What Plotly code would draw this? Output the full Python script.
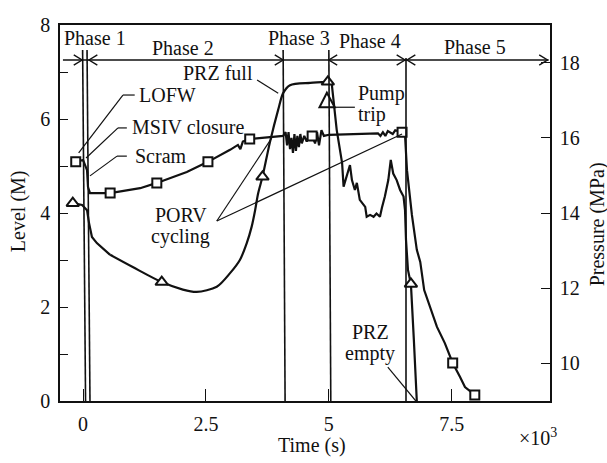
import plotly.graph_objects as go

# ---------------- data (time in 10^3 s) ----------------
t_level = [-0.21, -0.02, 0.08, 0.12, 0.18, 0.28, 0.55, 1.01, 1.60, 2.03, 2.31, 2.72, 2.99, 3.19, 3.33,
           3.43, 3.50, 3.56, 3.65, 3.80, 3.97, 4.07, 4.21, 4.62, 4.98, 5.06, 5.16, 5.27, 5.30, 5.36,
           5.43, 5.47, 5.53, 5.57, 5.63, 5.74, 5.77, 5.84, 5.91, 5.97, 6.04, 6.08, 6.14, 6.21, 6.26,
           6.31, 6.38, 6.45, 6.52, 6.55, 6.57, 6.61, 6.67, 6.73, 6.79]
level = [4.21, 4.17, 4.06, 3.79, 3.49, 3.36, 3.11, 2.85, 2.53, 2.37, 2.32, 2.43, 2.72, 3.00, 3.36,
         3.71, 4.06, 4.41, 4.77, 5.50, 6.20, 6.55, 6.72, 6.77, 6.79, 6.74, 5.77, 5.06, 4.56, 4.77,
         5.02, 4.70, 4.49, 4.64, 4.28, 4.13, 3.92, 3.96, 3.92, 3.99, 3.92, 4.11, 4.35, 4.70, 5.13,
         4.84, 4.70, 4.49, 4.35, 4.06, 3.43, 2.79, 2.49, 1.30, 0.00]

t_press = [-0.15, 0.00, 0.08, 0.10, 0.14, 0.55, 1.16, 1.50, 2.11, 2.54, 2.99, 3.15, 3.20, 3.25, 3.39,
           3.80, 4.07, 4.12, 4.15, 4.18, 4.21, 4.24, 4.27, 4.30, 4.33, 4.36, 4.39, 4.42, 4.45, 4.50,
           4.55, 4.60, 4.66, 4.72, 4.76, 4.80, 4.85, 4.90, 5.00, 5.50, 6.00, 6.05, 6.10, 6.15, 6.20,
           6.30, 6.35, 6.49, 6.55, 6.59, 6.69, 6.79, 6.86, 6.94, 7.20, 7.36, 7.52, 7.67, 7.77, 7.97]
pressure = [15.36, 15.41, 15.14, 14.69, 14.53, 14.53, 14.66, 14.80, 15.09, 15.36, 15.68, 15.81, 15.70, 15.90, 15.97,
            16.02, 16.05, 16.15, 15.80, 16.15, 15.70, 16.00, 15.60, 16.10, 15.65, 16.05, 15.75, 16.10, 15.85, 16.05,
            15.90, 16.10, 16.05, 15.85, 16.15, 15.80, 16.20, 16.05, 16.08, 16.10, 16.12, 16.05, 16.15, 16.05, 16.18,
            16.10, 16.20, 16.15, 16.07, 15.14, 13.95, 13.02, 12.70, 11.95, 10.97, 10.54, 10.01, 9.64, 9.37, 9.16]

t_level_mk = [-0.21, 1.60, 3.65, 4.98, 6.67]
level_mk = [4.21, 2.53, 4.77, 6.79, 2.49]
t_press_mk = [-0.15, 0.55, 1.50, 2.54, 3.39, 4.66, 6.49, 7.52, 7.97]
press_mk = [15.36, 14.53, 14.80, 15.36, 15.97, 16.05, 16.15, 10.01, 9.16]

x_ticks = [0, 2.5, 5, 7.5]
x_ticktext = ["0", "2.5", "5", "7.5"]
level_ticks = [0, 2, 4, 6, 8]
press_ticks = [10, 12, 14, 16, 18]

# phase boundary lines (top x, bottom x), phase labels
phase_lines = [(-0.01, 0.05), (0.08, 0.14), (4.07, 4.11), (5.00, 5.04), (6.57, 6.57)]
phase_names = ["Phase 1", "Phase 2", "Phase 3", "Phase 4", "Phase 5"]
phase_label_x = [0.24, 2.03, 4.40, 5.84, 7.98]
phase_label_y = [7.72, 7.51, 7.72, 7.66, 7.53]
chevrons = [(-0.02, 1), (0.12, -1), (4.07, 1), (5.00, -1), (6.55, 1), (6.59, -1), (9.45, 1)]

FONT = "Liberation Serif"
FS = 20
INK = "#111111"

fig = go.Figure()
# level curve: smooth part drawn as spline, the rest straight segments
smooth_a, smooth_b = 6, 25
for a, b, shape in [(0, smooth_a + 1, "linear"), (smooth_a, smooth_b, "spline"), (smooth_b - 1, len(t_level), "linear")]:
    fig.add_trace(go.Scatter(x=t_level[a:b], y=level[a:b], mode="lines",
                             line=dict(color=INK, width=2.2, shape=shape, smoothing=0.8),
                             showlegend=False, yaxis="y"))
fig.add_trace(go.Scatter(x=t_press, y=pressure, mode="lines", line=dict(color=INK, width=2.2),
                         showlegend=False, yaxis="y2"))
fig.add_trace(go.Scatter(x=t_level_mk, y=level_mk, mode="markers",
                         marker=dict(symbol="triangle-up", size=11, color="white",
                                     line=dict(color=INK, width=2)),
                         showlegend=False, yaxis="y"))
fig.add_trace(go.Scatter(x=t_press_mk, y=press_mk, mode="markers",
                         marker=dict(symbol="square", size=9, color="white",
                                     line=dict(color=INK, width=2)),
                         showlegend=False, yaxis="y2"))
# axis key symbols above the frame
fig.add_trace(go.Scatter(x=[-0.47], y=[8.27], mode="markers", cliponaxis=False,
                         marker=dict(symbol="triangle-up", size=10, color="white",
                                     line=dict(color=INK, width=2.2)),
                         showlegend=False, yaxis="y"))
fig.add_trace(go.Scatter(x=[9.47], y=[19.27], mode="markers", cliponaxis=False,
                         marker=dict(symbol="square", size=8, color="white",
                                     line=dict(color=INK, width=2.2)),
                         showlegend=False, yaxis="y2"))

shapes = []
LW = 1.6
ARROW_Y = 7.255
# phase arrow line
shapes.append(dict(type="line", xref="x", yref="y", x0=-0.41, x1=9.47, y0=ARROW_Y, y1=ARROW_Y,
                   line=dict(color=INK, width=1.4)))
for i, (xt, xb) in enumerate(phase_lines):
    top = 7.3 if i == len(phase_lines) - 1 else 7.47
    shapes.append(dict(type="line", xref="x", yref="y", x0=xt, x1=xb, y0=top, y1=0,
                       line=dict(color=INK, width=LW)))
w, h = 0.17, 0.11
for xc, d in chevrons:
    shapes.append(dict(type="path", xref="x", yref="y",
                       path=f"M {xc - d*w},{ARROW_Y + h} L {xc},{ARROW_Y} L {xc - d*w},{ARROW_Y - h}",
                       line=dict(color=INK, width=1.4)))

def seg(x0, y0, x1, y1, width=1.2):
    shapes.append(dict(type="line", xref="x", yref="y", x0=x0, y0=y0, x1=x1, y1=y1,
                       line=dict(color=INK, width=width)))

# LOFW / MSIV / Scram leaders
seg(0.81, 6.51, 1.05, 6.51); seg(0.81, 6.51, -0.09, 5.28)
seg(0.71, 5.81, 0.89, 5.81); seg(0.71, 5.81, 0.06, 5.17)
seg(0.69, 5.21, 0.89, 5.21); seg(0.69, 5.21, 0.14, 4.79)
# PRZ full
seg(3.54, 6.83, 3.97, 6.55)
# PORV cycling
seg(2.72, 3.83, 3.84, 5.60); seg(2.72, 3.83, 6.49, 5.68)
# Pump trip pointer
shapes.append(dict(type="path", xref="x", yref="y",
                   path="M 4.96,6.56 L 4.81,6.25 L 5.12,6.25 Z", line=dict(color=INK, width=2)))
seg(5.08, 6.25, 5.53, 6.25)
# PRZ empty
seg(6.20, 0.72, 6.77, 0.0)

annotations = []
def txt(x, y, s, xanchor="center", xref="x", yref="y", size=FS, textangle=0):
    annotations.append(dict(x=x, y=y, xref=xref, yref=yref, text=s, showarrow=False,
                            xanchor=xanchor, yanchor="middle", textangle=textangle,
                            font=dict(family=FONT, size=size, color=INK)))

for name, xl, yl in zip(phase_names, phase_label_x, phase_label_y):
    txt(xl, yl, name)
txt(1.10, 6.51, "LOFW", "left")
txt(0.95, 5.83, "MSIV closure", "left")
txt(1.01, 5.21, "Scram", "left")
txt(3.50, 6.98, "PRZ full", "right")
txt(5.56, 6.55, "Pump", "left")
txt(5.56, 6.09, "trip", "left")
txt(1.99, 3.96, "PORV")
txt(1.99, 3.51, "cycling")
txt(5.84, 1.47, "PRZ")
txt(5.84, 1.02, "empty")
# axis titles
txt(-0.0857, 0.505, "Level (M)", xref="paper", yref="paper", textangle=-90)
txt(1.096, 0.47, "Pressure (MPa)", xref="paper", yref="paper", textangle=-90)
txt(0.514, -0.118, "Time (s)", xref="paper", yref="paper")
txt(0.975, -0.095, "×10<sup>3</sup>", xref="paper", yref="paper")

fig.update_layout(
    width=607, height=463, autosize=False,
    margin=dict(l=60, r=57, t=25, b=62),
    plot_bgcolor="white", paper_bgcolor="white",
    font=dict(family=FONT, size=FS, color=INK),
    shapes=shapes, annotations=annotations, showlegend=False,
    xaxis=dict(range=[-0.47, 9.5], showgrid=False, zeroline=False, showline=True, mirror=True,
               linecolor=INK, linewidth=1.6, ticks="inside", ticklen=12, tickwidth=1.4,
               tickcolor=INK, tickvals=x_ticks, ticktext=x_ticktext, ticklabelstandoff=4),
    yaxis=dict(range=[0, 8], showgrid=False, zeroline=False, showline=True, linecolor=INK,
               linewidth=1.6, ticks="inside", ticklen=8, tickwidth=1.4, tickcolor=INK,
               tickvals=level_ticks, ticklabelstandoff=4,
               minor=dict(ticks="inside", ticklen=8, tickwidth=1.4, tickcolor=INK, dtick=1)),
    yaxis2=dict(range=[9, 19], overlaying="y", side="right", showgrid=False, zeroline=False,
                showline=True, linecolor=INK, linewidth=1.6, ticks="inside", ticklen=9,
                tickwidth=1.4, tickcolor=INK, tickvals=press_ticks, ticklabelstandoff=4),
)

fig.write_html("out.html")
